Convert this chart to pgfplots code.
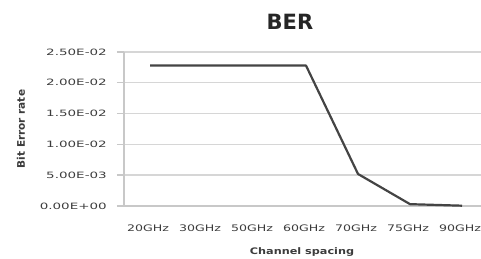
\documentclass[border=0pt]{standalone}
\usepackage{pgfplots}
\pgfplotsset{compat=1.18}
\usepackage{fontspec}
\setmainfont{DejaVu Sans}
\newfontfamily\xtickfont[FakeStretch=1.4]{DejaVu Sans}
\newfontfamily\ytickfont[FakeStretch=1.55]{DejaVu Sans}
\newfontfamily\labfont[FakeStretch=1.25]{DejaVu Sans}
\definecolor{gridc}{RGB}{214,214,214}
\definecolor{axc}{RGB}{200,200,200}
\definecolor{linec}{RGB}{68,68,68}
\definecolor{txtc}{RGB}{60,60,60}
\begin{document}
\begin{tikzpicture}[x=1pt,y=1pt]
\useasboundingbox (-124,-53) rectangle (357,206);
\begin{axis}[
  at={(0,0)}, anchor=south west,
  scale only axis, width=357pt, height=154pt,
  xmin=-0.5, xmax=6.365, ymin=0, ymax=0.025,
  clip=false,
  axis x line*=bottom, axis y line*=left,
  axis line style={axc, line width=1.4pt, -},
  xtick={0,1,2,3,4,5,6},
  xticklabels={20GHz,30GHz,50GHz,60GHz,70GHz,75GHz,90GHz},
  ytick={0,0.005,0.01,0.015,0.02,0.025},
  yticklabels={0.00E+00,5.00E-03,1.00E-02,1.50E-02,2.00E-02,2.50E-02},
  scaled y ticks=false,
  ymajorgrids, major grid style={gridc, line width=1.4pt},
  xtick style={draw=none},
  ytick style={axc, line width=1.4pt},
  ytick pos=left, tick align=outside, major tick length=7pt,
  xticklabel style={font=\xtickfont\fontsize{9}{10}\selectfont, text=txtc, anchor=base, inner sep=0pt, yshift=-18pt, xshift=-2pt},
  yticklabel style={font=\ytickfont\fontsize{8.7}{10}\selectfont, text=txtc, anchor=east, inner sep=0pt, xshift=-10pt},
]
\addplot[linec, line width=2.2pt, line join=round] coordinates {
  (0,0.0228) (1,0.0228) (2,0.0228) (3,0.0228) (4,0.0052) (5,0.0003) (6,0.00005)};
\end{axis}
\node[anchor=base, inner sep=0pt, font=\bfseries\fontsize{21}{24}\selectfont, text=black!85] at (166,176) {BER};
\node[anchor=base, inner sep=0pt, font=\labfont\bfseries\fontsize{9}{10}\selectfont, text=txtc] at (178,-48.5) {Channel spacing};
\node[rotate=90, inner sep=0pt, font=\bfseries\fontsize{10.5}{12}\selectfont, text=txtc] at (-103,77) {Bit Error rate};
\end{tikzpicture}
\end{document}
